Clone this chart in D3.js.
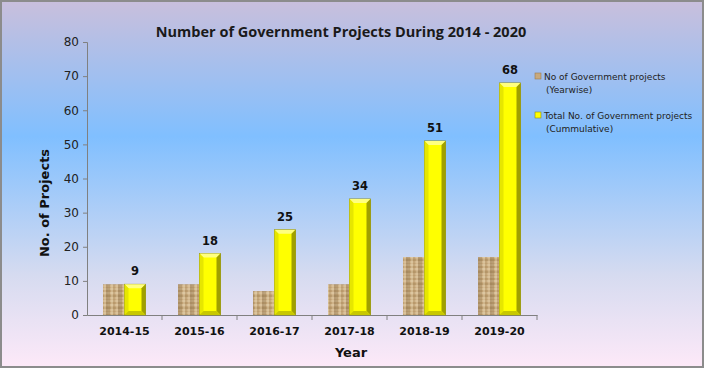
<!DOCTYPE html>
<html><head><meta charset="utf-8">
<script src="https://cdn.jsdelivr.net/npm/d3@7"></script>
<style>body{margin:0;padding:0;overflow:hidden}svg{display:block}</style>
</head><body>
<script>
const categories = ["2014-15","2015-16","2016-17","2017-18","2018-19","2019-20"];
const yearwise = [9, 9, 7, 9, 17, 17];
const cumulative = [9, 18, 25, 34, 51, 68];
const yTicks = [0,10,20,30,40,50,60,70,80];
const seriesNames = [["No of Government projects","(Yearwise)"],["Total No. of Government projects","(Cummulative)"]];

const W=705,H=369;
const svg=d3.select("body").append("svg").attr("width",W).attr("height",H);
const defs=svg.append("defs");
const bg=defs.append("linearGradient").attr("id","bg").attr("x1",0).attr("y1",0).attr("x2",0).attr("y2",1);
[[0,"#c9bfdc"],[0.37,"#80bfff"],[0.75,"#d6dbf0"],[1,"#fde9f8"]].forEach(s=>bg.append("stop").attr("offset",s[0]).attr("stop-color",s[1]));
// burlap texture pattern (fixed weave)
const pat=defs.append("pattern").attr("id","burlap").attr("patternUnits","userSpaceOnUse").attr("width",12).attr("height",12);
pat.append("rect").attr("width",12).attr("height",12).attr("fill","#c8a97d");
[[0,1,12,1,"#ead8b6"],[0,3,12,3,"#b0905f"],[0,5,12,5,"#f0e2c4"],[0,8,12,8,"#9c7c50"],[0,10,12,10,"#e4cfa8"],
 [1,0,1,12,"#8a6c44"],[4,0,4,12,"#ecdcbc"],[6,0,6,12,"#a88658"],[9,0,9,12,"#e8d4b0"],[11,0,11,12,"#7e6240"]].forEach(l=>
  pat.append("line").attr("x1",l[0]).attr("y1",l[1]).attr("x2",l[2]).attr("y2",l[3]).attr("stroke",l[4]).attr("stroke-width",1).attr("opacity",0.65));
const yg=defs.append("linearGradient").attr("id","yel").attr("x1",0).attr("y1",0).attr("x2",1).attr("y2",0);
[[0,"#f0f000"],[0.2,"#ffff00"],[0.8,"#ffff00"],[1,"#e8e800"]].forEach(s=>yg.append("stop").attr("offset",s[0]).attr("stop-color",s[1]));

svg.append("rect").attr("x",1).attr("y",1).attr("width",W-3).attr("height",H-3).attr("fill","url(#bg)").attr("stroke","#8c8c8c").attr("stroke-width",2);

const x0=87,x1=537,yB=315,yT=42;
const x=d3.scaleBand().domain(categories).range([x0,x1]);
const y=d3.scaleLinear().domain([0,80]).range([yB,yT]);
const bw=21;

svg.append("text").attr("x",341).attr("y",37).attr("text-anchor","middle")
  .style("font-family","'Open Sans',Lato,sans-serif").style("font-weight","bold").style("font-size","14.5px").attr("fill","#1a1a1a")
  .text("Number of Government Projects During 2014 - 2020");

// Axes
const ya=d3.axisLeft(y).tickValues(yTicks).tickSize(4).tickPadding(4);
const gy=svg.append("g").attr("transform",`translate(${x0},0)`).call(ya);
gy.selectAll("path,line").attr("stroke","#808080");
gy.selectAll("text").style("font-family","'DejaVu Sans',Verdana,sans-serif").style("font-size","12px").attr("fill","#222");

const xa=d3.axisBottom(x).tickSize(0).tickPadding(12);
const gx=svg.append("g").attr("transform",`translate(0,${yB})`).call(xa);
gx.select("path").attr("stroke","#808080");
gx.selectAll("text").style("font-family","'DejaVu Sans',Verdana,sans-serif").style("font-weight","bold").style("font-size","11px").attr("fill","#111");
svg.append("g").selectAll("line").data(categories).join("line")
  .attr("x1",(d)=>x(d)+x.step()).attr("x2",(d)=>x(d)+x.step())
  .attr("y1",yB).attr("y2",yB+5).attr("stroke","#808080");

// Yearwise bars
svg.append("g").selectAll("rect").data(categories).join("rect")
  .attr("x",(d)=>x(d)+x.bandwidth()/2-bw-0.5).attr("width",bw+1)
  .attr("y",(d,i)=>y(yearwise[i])).attr("height",(d,i)=>yB-y(yearwise[i]))
  .attr("fill","url(#burlap)");

// Cumulative bars with bevel
const cg=svg.append("g");
categories.forEach((c,i)=>{
  const l=x(c)+x.bandwidth()/2, r=l+bw, t=y(cumulative[i]), b=yB, e=4;
  cg.append("rect").attr("x",l).attr("y",t).attr("width",bw).attr("height",b-t).attr("fill","url(#yel)").attr("stroke","#8a8a20").attr("stroke-width",0.8);
  cg.append("polygon").attr("points",`${l},${t} ${r},${t} ${r-e},${t+e} ${l+e},${t+e}`).attr("fill","#ffff80");
  cg.append("polygon").attr("points",`${l},${t} ${l+e},${t+e} ${l+e},${b-e} ${l},${b}`).attr("fill","#e6e600");
  cg.append("polygon").attr("points",`${r},${t} ${r},${b} ${r-e},${b-e} ${r-e},${t+e}`).attr("fill","#a0a000");
  cg.append("polygon").attr("points",`${l},${b} ${l+e},${b-e} ${r-e},${b-e} ${r},${b}`).attr("fill","#c8c800");
  cg.append("text").attr("x",l+bw/2).attr("y",t-9).attr("text-anchor","middle")
    .style("font-family","'DejaVu Sans',Verdana,sans-serif").style("font-weight","bold").style("font-size","11.5px").attr("fill","#111")
    .text(cumulative[i]);
});

// Axis titles
svg.append("text").attr("transform","translate(49,203) rotate(-90)").attr("text-anchor","middle")
  .style("font-family","'DejaVu Sans',Verdana,sans-serif").style("font-weight","bold").style("font-size","13px").attr("fill","#111").text("No. of Projects");
svg.append("text").attr("x",351).attr("y",357).attr("text-anchor","middle")
  .style("font-family","'DejaVu Sans',Verdana,sans-serif").style("font-weight","bold").style("font-size","13px").attr("fill","#111").text("Year");

// Legend
const lg=svg.append("g");
const legFill=["#c8a97d","#ffff00"];
const legY=[77,116];
seriesNames.forEach((n,i)=>{
  lg.append("rect").attr("x",535).attr("y",legY[i]-4).attr("width",6).attr("height",6).attr("fill",legFill[i]).attr("stroke",i?"#8a8a20":"#9c7c50").attr("stroke-width",0.6);
  lg.append("text").attr("x",544).attr("y",legY[i]+3).style("font-family","'DejaVu Sans',Verdana,sans-serif").style("font-size","9px").attr("fill","#222").text(n[0]);
  lg.append("text").attr("x",546).attr("y",legY[i]+16).style("font-family","'DejaVu Sans',Verdana,sans-serif").style("font-size","9px").attr("fill","#222").text(n[1]);
});
</script>
</body></html>
